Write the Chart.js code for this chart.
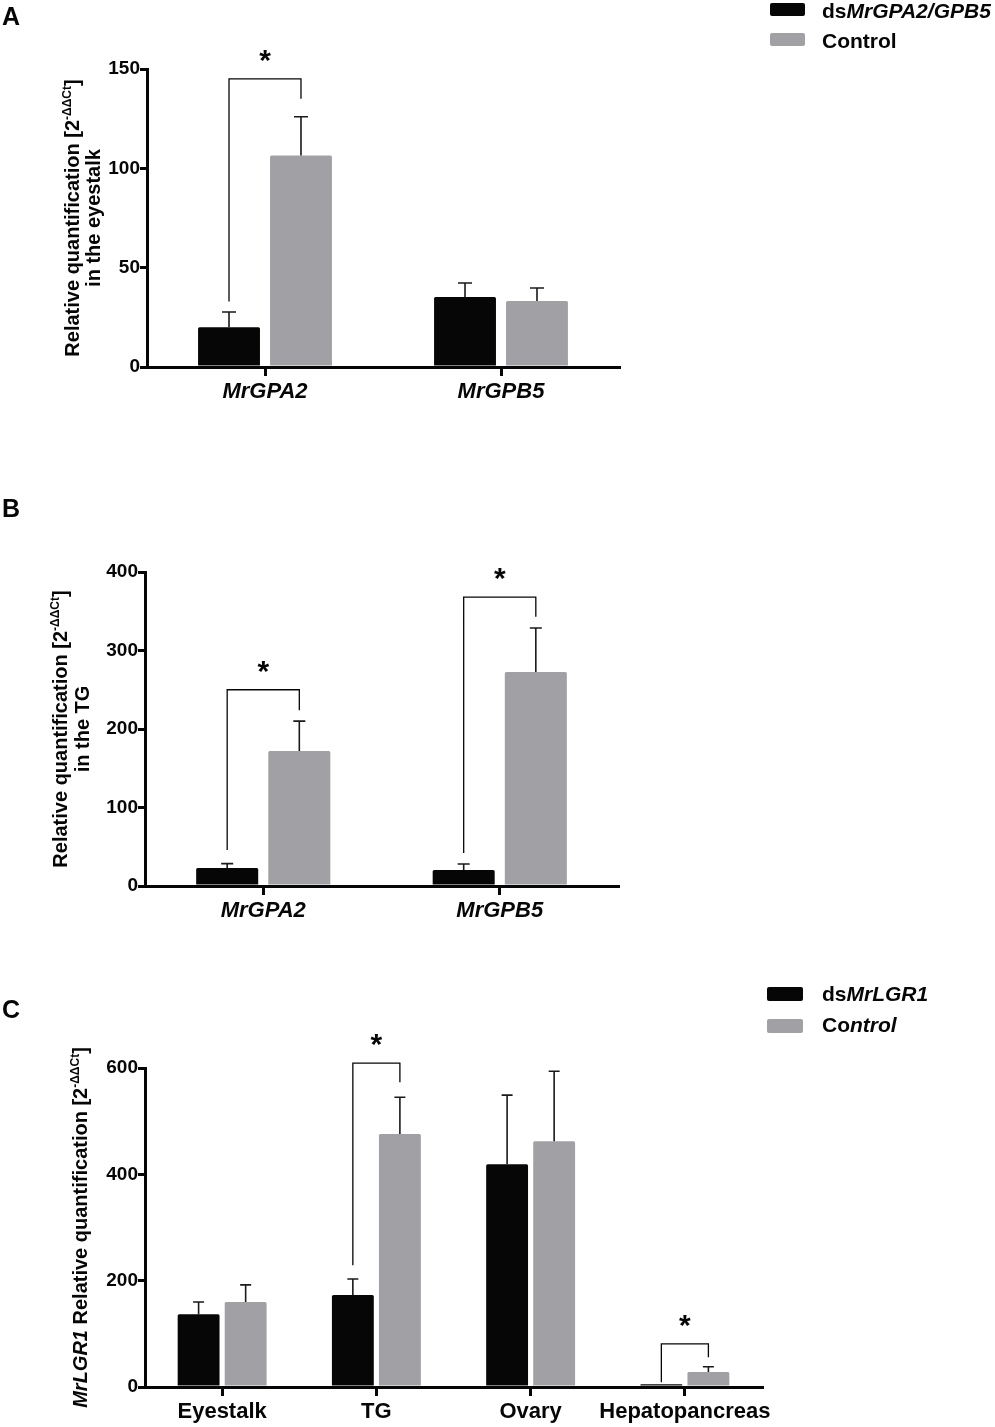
<!DOCTYPE html>
<html>
<head>
<meta charset="utf-8">
<script src="https://cdn.jsdelivr.net/npm/chart.js@4.4.1/dist/chart.umd.min.js"></script>
<style>
body { margin: 0; background: #fff; }
#wrap { position: relative; width: 995px; height: 1427px; overflow: hidden; }
canvas { position: absolute; left: 0; }
</style>
</head>
<body>
<div id="wrap">
  <canvas id="chartA" width="995" height="470" style="top:0px"></canvas>
  <canvas id="chartB" width="995" height="460" style="top:480px"></canvas>
  <canvas id="chartC" width="995" height="477" style="top:950px"></canvas>
</div>
<script>
// Panel A - eyestalk
const genesA = ['MrGPA2', 'MrGPB5'];
const dsA = [20, 35.2];
const dsAErr = [7.7, 7.1];
const ctrlA = [106.5, 33.2];
const ctrlAErr = [19.5, 6.6];
const ticksA = [0, 50, 100, 150];
// significance brackets: [category, top, left end, right end]
const sigA = [[0, 145, 33, 135]];

// Panel B - TG
const genesB = ['MrGPA2', 'MrGPB5'];
const dsB = [23, 20.4];
const dsBErr = [5.5, 7.6];
const ctrlB = [172, 272.6];
const ctrlBErr = [38, 56.1];
const ticksB = [0, 100, 200, 300, 400];
const sigB = [[0, 250, 46, 224], [1, 368, 42, 343]];

// Panel C - MrLGR1 in tissues
const tissuesC = ['Eyestalk', 'TG', 'Ovary', 'Hepatopancreas'];
const dsC = [137, 173, 419, 5];
const dsCErr = [23, 30, 130, 0];
const ctrlC = [160, 476, 462, 28];
const ctrlCErr = [32, 69, 132, 10];
const ticksC = [0, 200, 400, 600];
const sigC = [[1, 609, 229, 573], [3, 81, 9, 56]];

const BLACK = '#060606';
const GRAY = '#a1a1a5';
const FONT = '"Liberation Sans", Arial, sans-serif';

Chart.defaults.font.family = FONT;
Chart.defaults.color = BLACK;

// draw a row of text pieces (upright / italic / superscript)
function drawPieces(ctx, pieces, x, y, size, align) {
  const fontOf = p => (p.it ? 'italic ' : '') + 'bold ' + (p.sup ? Math.round(size * 0.62) : size) + 'px ' + FONT;
  let total = 0;
  pieces.forEach(p => { ctx.font = fontOf(p); total += ctx.measureText(p.t).width; });
  let cx = align === 'center' ? x - total / 2 : x;
  ctx.textAlign = 'left';
  ctx.textBaseline = 'alphabetic';
  pieces.forEach(p => {
    ctx.font = fontOf(p);
    ctx.fillText(p.t, cx, p.sup ? y - size * 0.42 : y);
    cx += ctx.measureText(p.t).width;
  });
}

function makePanel(id, cfg) {
  const canvas = document.getElementById(id);
  const H = canvas.height;

  const extras = {
    id: 'extras',
    afterDraw(chart) {
      const ctx = chart.ctx;
      const y = chart.scales.y;
      const area = chart.chartArea;
      ctx.save();
      ctx.fillStyle = BLACK;
      ctx.strokeStyle = BLACK;

      // error bars (upper only)
      chart.data.datasets.forEach((ds, i) => {
        const meta = chart.getDatasetMeta(i);
        meta.data.forEach((bar, j) => {
          const e = ds.errors[j];
          if (!e) return;
          const yTop = y.getPixelForValue(ds.data[j] + e);
          ctx.lineWidth = 1.6;
          ctx.strokeStyle = '#1a1a1a';
          ctx.beginPath();
          ctx.moveTo(bar.x, bar.y);
          ctx.lineTo(bar.x, yTop);
          ctx.moveTo(bar.x - cfg.cap / 2, yTop);
          ctx.lineTo(bar.x + cfg.cap / 2, yTop);
          ctx.stroke();
        });
      });

      // significance brackets and stars
      const m0 = chart.getDatasetMeta(0), m1 = chart.getDatasetMeta(1);
      cfg.sig.forEach(([c, top, l, r]) => {
        const xL = m0.data[c].x, xR = m1.data[c].x;
        const yT = y.getPixelForValue(top);
        ctx.lineWidth = 1.3;
        ctx.strokeStyle = BLACK;
        ctx.beginPath();
        ctx.moveTo(xL, y.getPixelForValue(l));
        ctx.lineTo(xL, yT);
        ctx.lineTo(xR, yT);
        ctx.lineTo(xR, y.getPixelForValue(r));
        ctx.stroke();
        ctx.font = 'bold 30px ' + FONT;
        ctx.textAlign = 'center';
        ctx.textBaseline = 'alphabetic';
        const mt = ctx.measureText('*');
        const off = (mt.actualBoundingBoxAscent - mt.actualBoundingBoxDescent) / 2;
        ctx.fillText('*', (xL + xR) / 2, yT - 23 + off);
      });

      // rotated y-axis title
      const midY = (area.top + area.bottom) / 2;
      cfg.yTitle.forEach((pieces, k) => {
        ctx.save();
        ctx.translate(cfg.yTitleX[k], midY);
        ctx.rotate(-Math.PI / 2);
        drawPieces(ctx, pieces, 0, 0, 20, 'center');
        ctx.restore();
      });

      // legend
      if (cfg.legend) {
        const L = cfg.legend;
        [BLACK, GRAY].forEach((col, k) => {
          ctx.fillStyle = col;
          ctx.beginPath();
          ctx.roundRect(L.boxX, L.boxY[k], L.boxW, L.boxH, 2);
          ctx.fill();
          ctx.fillStyle = BLACK;
          drawPieces(ctx, L.text[k], L.textX, L.base[k], 21, 'left');
        });
      }

      // panel letter
      ctx.font = 'bold 25px ' + FONT;
      ctx.textAlign = 'left';
      ctx.textBaseline = 'alphabetic';
      ctx.fillText(cfg.letter, 2, cfg.letterY);
      ctx.restore();
    }
  };

  return new Chart(canvas, {
    type: 'bar',
    data: {
      labels: cfg.labels,
      datasets: [
        { label: 'ds', data: cfg.ds, errors: cfg.dsErr, backgroundColor: BLACK },
        { label: 'Control', data: cfg.ctrl, errors: cfg.ctrlErr, backgroundColor: GRAY }
      ]
    },
    options: {
      responsive: false,
      animation: false,
      layout: { padding: { top: cfg.area.top, right: 995 - cfg.area.right, bottom: 0, left: 0 } },
      plugins: { legend: { display: false }, tooltip: { enabled: false } },
      datasets: { bar: { categoryPercentage: cfg.catPct, barPercentage: cfg.barPct, borderWidth: 0, borderRadius: 1.5 } },
      scales: {
        x: {
          grid: { offset: false, drawOnChartArea: false, tickLength: 9, lineWidth: 3, color: BLACK },
          border: { color: BLACK, width: 3 },
          ticks: { font: cfg.xFont, color: BLACK, padding: 3, maxRotation: 0, autoSkip: false },
          afterFit: s => { s.height = H - cfg.area.bottom; }
        },
        y: {
          min: 0,
          max: cfg.ticks[cfg.ticks.length - 1],
          afterBuildTicks: s => { s.ticks = cfg.ticks.map(v => ({ value: v })); },
          ticks: { font: { size: 19, weight: 'bold' }, color: BLACK, padding: 0 },
          grid: { drawOnChartArea: false, tickLength: 7, lineWidth: 3, color: BLACK },
          border: { color: BLACK, width: 3 },
          afterFit: s => { s.width = cfg.area.left; }
        }
      }
    },
    plugins: [extras]
  });
}

const titleMain = [{ t: 'Relative quantification [2' }, { t: '-\u0394\u0394Ct', sup: true }, { t: ']' }];

makePanel('chartA', {
  labels: genesA, ds: dsA, dsErr: dsAErr, ctrl: ctrlA, ctrlErr: ctrlAErr, ticks: ticksA, sig: sigA,
  area: { left: 147, right: 619, top: 69, bottom: 367 },
  catPct: 0.61, barPct: 0.86, cap: 14,
  xFont: { size: 22, weight: 'bold', style: 'italic' },
  yTitle: [titleMain, [{ t: 'in the eyestalk' }]], yTitleX: [79, 100],
  legend: {
    boxX: 770, boxY: [3, 33], boxW: 35, boxH: 13, textX: 822, base: [18, 48],
    text: [[{ t: 'ds' }, { t: 'MrGPA2/GPB5', it: true }], [{ t: 'Control' }]]
  },
  letter: 'A', letterY: 25
});

makePanel('chartB', {
  labels: genesB, ds: dsB, dsErr: dsBErr, ctrl: ctrlB, ctrlErr: ctrlBErr, ticks: ticksB, sig: sigB,
  area: { left: 145, right: 618, top: 92, bottom: 406 },
  catPct: 0.61, barPct: 0.86, cap: 12,
  xFont: { size: 22, weight: 'bold', style: 'italic' },
  yTitle: [titleMain, [{ t: 'in the TG' }]], yTitleX: [67, 89],
  legend: null,
  letter: 'B', letterY: 37
});

makePanel('chartC', {
  labels: tissuesC, ds: dsC, dsErr: dsCErr, ctrl: ctrlC, ctrlErr: ctrlCErr, ticks: ticksC, sig: sigC,
  area: { left: 145, right: 762, top: 118, bottom: 437 },
  catPct: 0.61, barPct: 0.89, cap: 11,
  xFont: { size: 22, weight: 'bold' },
  yTitle: [[{ t: 'MrLGR1', it: true }, { t: ' Relative quantification [2' }, { t: '-\u0394\u0394Ct', sup: true }, { t: ']' }]],
  yTitleX: [87],
  legend: {
    boxX: 767, boxY: [37, 69], boxW: 36, boxH: 14, textX: 822, base: [51, 82],
    text: [[{ t: 'ds' }, { t: 'MrLGR1', it: true }], [{ t: 'Co' }, { t: 'ntrol', it: true }]]
  },
  letter: 'C', letterY: 68
});
</script>
</body>
</html>
